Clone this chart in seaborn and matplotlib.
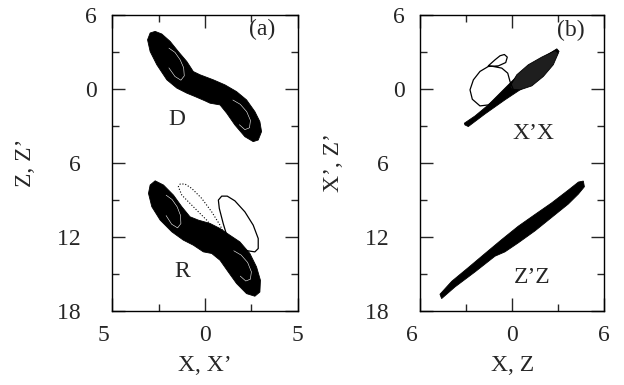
import matplotlib
matplotlib.use("Agg")
import matplotlib.pyplot as plt
import seaborn as sns
import pandas as pd

# outlines / traces (data units)
d_x = [-2.96, -2.69, -2.33, -1.88, -1.44, -0.98, -0.63, -0.27, 0.45, 1.08, 1.70, 2.24, 2.69, 2.96,
       3.05, 2.87, 2.60, 2.15, 1.61, 1.17, 0.81, 0.27, 0.00, -0.54, -0.98, -1.52, -2.06, -2.60, -2.96, -3.10]
d_y = [4.52, 4.65, 4.44, 3.84, 3.02, 2.21, 1.40, 1.14, 0.73, 0.32, -0.22, -0.89, -1.84, -2.65,
       -3.46, -4.14, -4.27, -3.87, -2.92, -1.97, -1.30, -1.16, -0.97, -0.62, -0.35, 0.06, 0.73, 1.95, 3.02, 3.97]

# white swirls inside the dense lobes (open arcs)
d_swirl1_x = [-1.95, -1.62, -1.34, -1.15, -1.12, -1.30, -1.62, -1.95]
d_swirl1_y = [3.30, 2.95, 2.35, 1.70, 1.05, 0.70, 1.00, 1.70]
d_swirl2_x = [1.50, 1.90, 2.25, 2.45, 2.40, 2.15, 1.85]
d_swirl2_y = [-0.90, -1.25, -1.85, -2.55, -3.15, -3.30, -2.90]

r_x = [-2.96, -2.69, -2.24, -1.70, -1.25, -0.81, -0.36, 0.27, 0.81, 1.34, 1.88, 2.42, 2.78, 2.99,
       2.96, 2.69, 2.24, 1.70, 1.25, 0.81, 0.36, -0.09, -0.63, -1.17, -1.79, -2.42, -2.87, -3.05]
r_y = [-7.78, -7.44, -7.78, -8.60, -9.54, -10.35, -10.62, -10.89, -11.30, -11.84, -12.38, -13.32, -14.41, -15.49,
       -16.44, -16.78, -16.57, -15.75, -14.81, -13.87, -13.32, -13.19, -12.65, -12.24, -11.57, -10.62, -9.54, -8.46]

r_swirl1_x = [-2.10, -1.78, -1.50, -1.32, -1.30, -1.48, -1.80, -2.10]
r_swirl1_y = [-8.60, -8.95, -9.55, -10.25, -10.90, -11.25, -10.95, -10.25]
r_swirl2_x = [1.55, 1.95, 2.30, 2.50, 2.45, 2.20, 1.90]
r_swirl2_y = [-13.10, -13.45, -14.05, -14.80, -15.40, -15.55, -15.15]

r_loop1_x = [1.25, 0.81, 0.09, -0.63, -1.25, -1.44, -1.34, -1.08, -0.72, -0.18, 0.36, 0.81, 1.20, 1.44]
r_loop1_y = [-13.19, -11.98, -10.62, -9.54, -8.60, -7.92, -7.70, -7.70, -8.05, -8.86, -9.95, -11.03, -12.24, -13.19]

r_loop2_x = [1.52, 1.25, 0.98, 0.77, 0.72, 0.90, 1.20, 1.61, 2.15, 2.60, 2.87, 2.87, 2.69, 2.33, 1.88, 1.52]
r_loop2_y = [-13.32, -12.24, -10.89, -9.67, -9.00, -8.68, -8.68, -9.06, -9.95, -11.03, -12.11, -12.92, -13.19, -13.11, -12.92, -12.92]

xx_band_x = [-3.09, -2.87, -1.78, -0.48, 0.83, 1.92, 2.67, 3.05, 2.90, 2.13, 1.27, 0.50, -0.37, -1.57, -2.43, -3.13]
xx_band_y = [-2.92, -3.05, -2.03, -0.89, 0.19, 1.27, 2.30, 3.03, 3.24, 2.62, 1.95, 1.27, 0.19, -1.30, -2.19, -2.78]

xx_lens_x = [-0.15, 0.29, 1.04, 1.92, 2.79, 3.00, 2.67, 2.02, 1.27, 0.50, -0.04]
xx_lens_y = [0.19, 1.14, 1.95, 2.57, 3.10, 2.89, 1.95, 1.00, 0.24, -0.08, -0.03]

xx_loop_x = [0.07, -0.15, -0.30, -0.69, -1.24, -1.57, -1.13, -0.80, -0.52, -0.33, -0.43, -0.91, -1.57,
             -2.11, -2.54, -2.76, -2.61, -2.11, -1.57, -1.02, -0.48]
xx_loop_y = [-0.08, 0.59, 1.27, 1.68, 1.81, 1.86, 2.35, 2.68, 2.78, 2.57, 2.13, 1.86, 1.81,
             1.41, 0.73, -0.08, -0.84, -1.38, -1.30, -0.84, -0.35]

zz_band_x = [-4.61, -3.74, -2.43, -1.13, -0.48, 0.39, 1.48, 2.57, 3.65, 4.31, 4.70,
             4.63, 4.31, 3.65, 2.57, 1.48, 0.39, -0.69, -1.78, -2.87, -3.95, -4.72]
zz_band_y = [-16.97, -16.03, -14.81, -13.54, -13.19, -12.46, -11.49, -10.40, -9.32, -8.51, -7.92,
             -7.46, -7.54, -8.19, -9.22, -10.16, -11.11, -12.19, -13.32, -14.46, -15.57, -16.62]

yticks = [6, 0, -6, -12, -18]
xticks_a = [-5, 0, 5]
xticks_b = [-6, 0, 6]

# the minus signs print blank in the original but still take room (after the digits)
BLANK_MINUS = "\u2002\u2009"


def tick_text(v):
    return str(abs(v)) + (BLANK_MINUS if v < 0 else "")


sns.set_style("ticks")
plt.rcParams["font.family"] = ["Liberation Serif", "DejaVu Serif"]

fig = plt.figure(figsize=(6.24, 3.85), dpi=100)
ax1 = fig.add_axes([0.180, 0.1914, 0.2971, 0.7704])
ax2 = fig.add_axes([0.6736, 0.1914, 0.2949, 0.7704])


def line(ax, xs, ys, **kw):
    df = pd.DataFrame({"x": xs, "y": ys})
    sns.lineplot(data=df, x="x", y="y", sort=False, estimator=None, ax=ax, **kw)


# panel (a)
ax1.fill(d_x, d_y, color="black", lw=0.6)
ax1.fill(r_x, r_y, color="black", lw=0.6)
for sx, sy in [(d_swirl1_x, d_swirl1_y), (d_swirl2_x, d_swirl2_y),
               (r_swirl1_x, r_swirl1_y), (r_swirl2_x, r_swirl2_y)]:
    line(ax1, sx, sy, color="white", lw=0.4)
line(ax1, r_loop1_x, r_loop1_y, color="black", lw=0.8, ls=":")
line(ax1, r_loop2_x, r_loop2_y, color="black", lw=0.9)

# panel (b)
ax2.fill(xx_band_x, xx_band_y, color="black", lw=0.6)
ax2.fill(xx_lens_x, xx_lens_y, color="#1e1e1e", lw=0.6, ec="black")
line(ax2, xx_loop_x, xx_loop_y, color="black", lw=0.9)
ax2.fill(zz_band_x, zz_band_y, color="black", lw=0.6)

fs = 17
for ax, xt, xl, yl in [(ax1, xticks_a, "X, X\u2019", "Z, Z\u2019"), (ax2, xticks_b, "X, Z", "X\u2019, Z\u2019")]:
    ax.set_xlim(xt[0], xt[-1])
    ax.set_ylim(-18, 6)
    ax.set_xticks(xt)
    ax.set_xticklabels([tick_text(v) for v in xt])
    ax.set_xticks([(xt[0] + xt[1]) / 2, (xt[1] + xt[2]) / 2], minor=True)
    ax.set_yticks(yticks)
    ax.set_yticklabels([tick_text(v) for v in yticks])
    ax.set_yticks([3, -3, -9, -15], minor=True)
    ax.tick_params(which="both", direction="in", top=True, right=True, width=1.0, labelsize=fs)
    ax.tick_params(which="major", length=9.5, pad=10)
    ax.tick_params(which="minor", length=5)
    ax.tick_params(axis="y", which="major", pad=11)
    for s in ax.spines.values():
        s.set_linewidth(1.0)
        s.set_color("black")
    ax.set_xlabel(xl, fontsize=fs, labelpad=6)
    ax.set_ylabel(yl, fontsize=fs, labelpad=15)

ax1.text(3.06, 4.78, "(a)", fontsize=fs, ha="center", va="center")
ax1.text(-1.5, -2.51, "D", fontsize=fs, ha="center", va="center")
ax1.text(-1.24, -14.8, "R", fontsize=fs, ha="center", va="center")
ax2.text(3.83, 4.70, "(b)", fontsize=fs, ha="center", va="center")
ax2.text(1.35, -3.61, "X\u2019X", fontsize=fs, ha="center", va="center")
ax2.text(1.28, -15.24, "Z\u2019Z", fontsize=fs, ha="center", va="center")

fig.savefig("out.png", dpi=100)
